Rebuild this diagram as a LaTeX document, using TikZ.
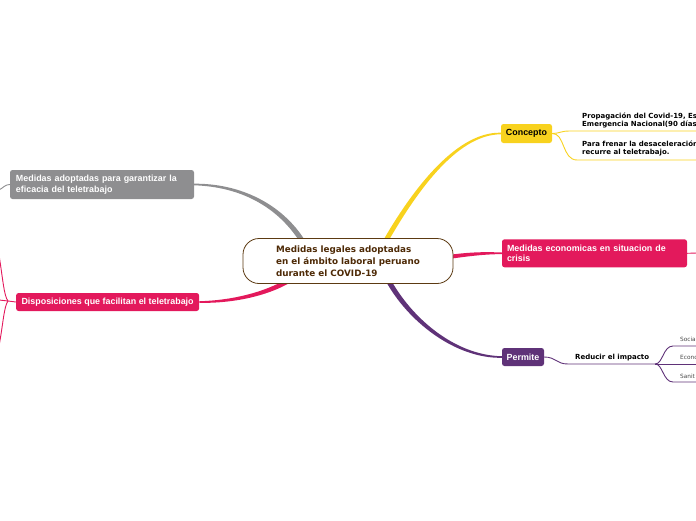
\documentclass[tikz,border=0pt]{standalone}
\usepackage{fontspec}
\setmainfont{Liberation Sans}
\newfontfamily\verd{DejaVu Sans}
\usetikzlibrary{calc,backgrounds}
\definecolor{yel}{HTML}{F8D21E}
\definecolor{gry}{HTML}{8E8E90}
\definecolor{mag}{HTML}{E3195C}
\definecolor{pur}{HTML}{5F3278}
\definecolor{brn}{HTML}{5C3A12}
\definecolor{brt}{HTML}{4E2A06}
\definecolor{tny}{HTML}{4A4A4A}
\newcommand\labf{\bfseries\fontsize{8.9}{10.7}\selectfont}
\newcommand\cenf{\verd\bfseries\fontsize{8.8}{12}\selectfont}
\newcommand\smf{\verd\bfseries\fontsize{7}{8}\selectfont}
\newcommand\tnf{\verd\fontsize{5.8}{7}\selectfont}
% #1 colour, #2 start, #3 c1, #4 c2, #5 end, #6 start half-width, #7 end half-width, #8 c2 half-width
\newcommand\taper[8]{\fill[#1] ($#2+#6$) .. controls ($#3+#6$) and ($#4+#8$) .. ($#5+#7$) -- ($#5-#7$) .. controls ($#4-#8$) and ($#3-#6$) .. ($#2-#6$) -- cycle;}
\tikzset{
  lab/.style={rounded corners=2.5pt, inner sep=0pt, font=\labf, text=white, align=center},
  thinc/.style={line width=0.9pt},
  sm/.style={font=\smf, inner sep=0pt, anchor=west, align=left, text=black},
  tn/.style={font=\tnf, inner sep=0pt, anchor=west, text=tny},
}
\begin{document}
\begin{tikzpicture}[x=1pt,y=-1pt]
\useasboundingbox (0,0) rectangle (696,520);
% central
\node[draw=brn, line width=0.8pt, fill=white, rounded corners=16pt, minimum width=210pt, minimum height=45pt, inner sep=0pt, align=left, font=\cenf, text=brt] (c) at (348,261) {Medidas legales adoptadas\\en el ámbito laboral peruano\\durante el COVID-19};
% main children
\node[lab, fill=yel, text=black, minimum width=51pt, minimum height=19pt] (concepto) at (526.5,133.5) {Concepto};
\node[lab, fill=gry, minimum width=184pt, minimum height=29pt, text width=172pt, align=left] (gray) at (102,184.5) {Medidas adoptadas para garantizar la\\eficacia del teletrabajo};
\node[lab, fill=mag, minimum width=183pt, minimum height=18pt] (disp) at (107.6,302) {Disposiciones que facilitan el teletrabajo};
\node[lab, fill=mag, minimum width=185pt, minimum height=28pt, text width=175pt, align=left] (eco) at (594.5,253.3) {Medidas economicas en situacion de\\crisis};
\node[lab, fill=pur, minimum width=42pt, minimum height=18pt] (permite) at (523,357) {Permite};
% sub texts
\node[sm] (t1) at (582,120) {Propagación del Covid-19, Es\\Emergencia Nacional(90 días};
\node[sm] (t2) at (582,148) {Para frenar la desaceleración\\recurre al teletrabajo.};
\node[sm] (red) at (575,358) {Reducir el impacto};
\node[tn] (s1) at (680,339.5) {Socia};
\node[tn] (s2) at (680,357.5) {Econo};
\node[tn] (s3) at (680,376.5) {Sanit};
% coordinates
\coordinate (ys) at ($(c.north)+(37,4)$);
\coordinate (gs) at ($(c.north)+(-45,4)$);
\coordinate (ms) at ($(c.south)+(-58,-4)$);
\coordinate (es) at ($(c.east)+(-5,-4)$);
\coordinate (ps) at ($(c.south)+(40,-4)$);
\coordinate (u1) at (697,131);
\coordinate (u2) at (697,160);
\coordinate (rb) at (655,364);
\coordinate (v1) at (697,346);
\coordinate (v2) at (697,364);
\coordinate (v3) at (697,382);
\coordinate (g0) at (-1,190);
\coordinate (dj) at (8,301);
\coordinate (d0) at (-1,300);
\coordinate (d1) at (-1,255);
\coordinate (d2) at (-1,346);
\coordinate (e0) at (697,253);
\begin{scope}[on background layer]
\taper{yel}{(ys)}{(412,195)}{(455,133)}{(concepto.west)}{(2.1,1.2)}{(0,0.8)}{(0.3,1.5)}
\taper{gry}{(gs)}{(280,205)}{(240,185)}{(gray.east)}{(2.2,-1.3)}{(0,-0.8)}{(0,-1.7)}
\taper{mag}{(ms)}{(265,295)}{(230,302)}{(disp.east)}{(1.2,2.0)}{(0,0.8)}{(0,1.5)}
\taper{mag}{(es)}{(470,254)}{(485,253)}{(eco.west)}{(0,2.0)}{(0,0.8)}{(0,1.2)}
\taper{pur}{(ps)}{(410,320)}{(455,357)}{(permite.west)}{(2.2,-1.2)}{(0,-0.8)}{(0.3,-1.6)}
\end{scope}
% thin connectors
\draw[yel, thinc] (concepto.east) .. controls (562,133) and (560,131) .. (570,131) -- (u1);
\draw[yel, thinc] (concepto.east) .. controls (565,133) and (562,160) .. (577,160) -- (u2);
\draw[pur, thinc] (permite.east) .. controls (556,357) and (556,364) .. (568,364) -- (rb);
\draw[pur, thinc] (rb) .. controls (663,364) and (663,346) .. (673,346) -- (v1);
\draw[pur, thinc] (rb) -- (v2);
\draw[pur, thinc] (rb) .. controls (663,364) and (663,382) .. (673,382) -- (v3);
\draw[gry, thinc] (gray.west) .. controls (5,184.5) and (3,188) .. (g0);
\draw[mag, thinc] (disp.west) -- (dj) -- (d0);
\draw[mag, thinc] (dj) .. controls (4,296) and (3,280) .. (d1);
\draw[mag, thinc] (dj) .. controls (4,306) and (3,325) .. (d2);
\draw[mag, thinc] (eco.east) -- (e0);
\end{tikzpicture}
\end{document}
